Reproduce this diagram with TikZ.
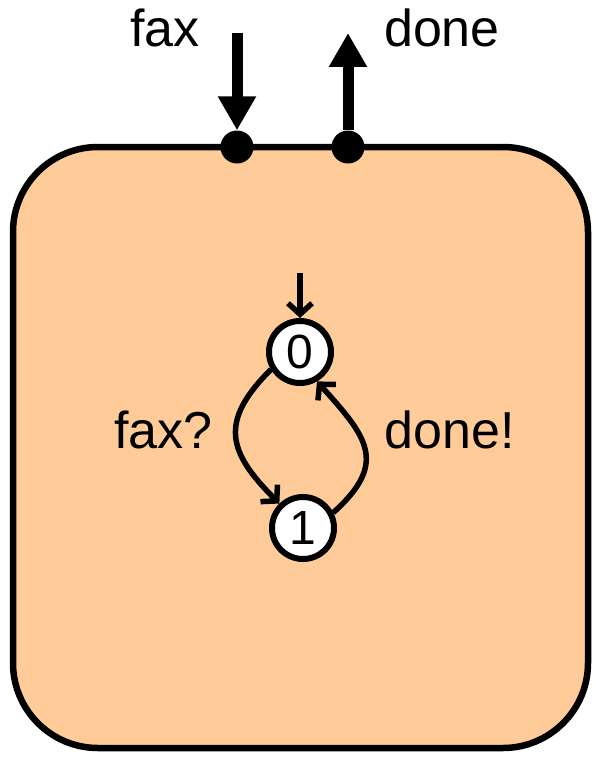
\documentclass[tikz,border=0pt]{standalone}
\usepackage{fontspec}
\setmainfont{Liberation Sans}
\usetikzlibrary{arrows.meta}
\definecolor{peach}{RGB}{255,204,153}
\begin{document}
\begin{tikzpicture}[x=1pt,y=1pt,
  labeltext/.style={font=\fontsize{52}{60}\selectfont, inner sep=0pt, anchor=base},
  statenode/.style={circle, draw, line width=6pt, fill=white, minimum size=62pt,
    inner sep=0pt, font=\fontsize{48}{52}\selectfont},
  portdot/.style={circle, fill=black, minimum size=33pt, inner sep=0pt},
  portarrow/.style={line width=11pt, -{Triangle[length=34pt,width=36pt]}},
  transition/.style={line width=5.5pt, -{Straight Barb[length=11pt,width=24pt]}},
]
\useasboundingbox (0,0) rectangle (595,-760);

% component body
\node[draw, line width=6.5pt, fill=peach, rounded corners=85pt,
  minimum width=575pt, minimum height=601pt, inner sep=0pt] (box) at (300.5,-447.5) {};

% interface ports
\node[portdot] (faxport) at (237,-147) {};
\node[portdot] (doneport) at (348,-147) {};
\coordinate (faxsrc) at (237,-33);
\coordinate (donedst) at (348,-33);
\draw[portarrow] (faxsrc) -- (faxport);
\draw[portarrow] (doneport) -- (donedst);
\node[labeltext] (faxlbl) at (165,-47) {fax};
\node[labeltext] (donelbl) at (442,-47) {done};

% automaton
\node[statenode] (s0) at (300,-352) {0};
\node[statenode] (s1) at (303,-528) {1};
\coordinate (init) at (300,-273);
\draw[transition] (init) -- (s0);
\draw[transition] (s0.211) to[out=225,in=135,looseness=1.4] (s1.134);
\draw[transition] (s1.27) to[out=42,in=312,looseness=1.45] (s0.300);
\node[labeltext] (faxq) at (163.5,-448) {fax?};
\node[labeltext] (doneq) at (450,-448) {done!};
\end{tikzpicture}
\end{document}
